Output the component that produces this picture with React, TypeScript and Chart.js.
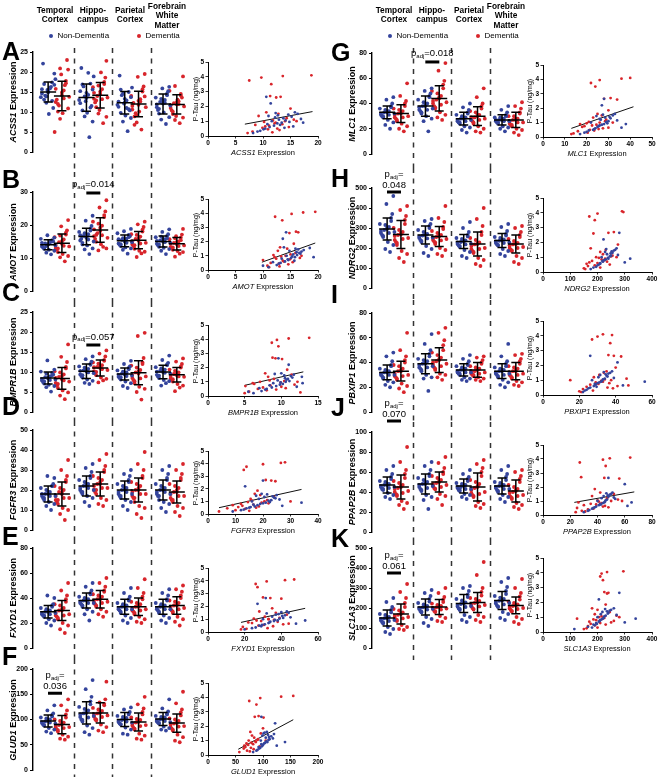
import React, { useEffect, useRef } from 'react';
import { Chart, registerables } from 'chart.js';
Chart.register(...registerables);

// ---------------- DATA ----------------
const LETTERS = ['A', 'B', 'C', 'D', 'E', 'F', 'G', 'H', 'I', 'J', 'K'];
const GENES = ['ACSS1', 'AMOT', 'BMPR1B', 'FGFR3', 'FXYD1', 'GLUD1', 'MLC1', 'NDRG2', 'PBXIP1', 'PPAP2B', 'SLC1A3'];
const REGIONS = [['Temporal', 'Cortex'], ['Hippo-', 'campus'], ['Parietal', 'Cortex'], ['Forebrain', 'White', 'Matter']];
const LEGEND = ['Non-Dementia', 'Dementia'];
const Y_MAX = [25, 30, 25, 50, 80, 200, 80, 500, 80, 100, 500];
const Y_STEP = [5, 10, 5, 10, 20, 50, 20, 100, 20, 20, 100];
const X_MAX = [20, 20, 15, 40, 60, 200, 50, 400, 60, 80, 400];
const X_STEP = [5, 5, 5, 10, 20, 50, 10, 100, 20, 20, 100];
const PTAU_TICKS_MAX = 5;

// groups order: TC ND, TC D, Hip ND, Hip D, Par ND, Par D, FWM ND, FWM D
const ACSS1_GROUPS = [
  [15.2, 13.1, 17.4, 14.6, 16.8, 12.3, 15.9, 22.1, 11.0, 14.1, 16.3, 13.7, 18.2, 15.5, 9.5, 14.9, 17.0, 12.8, 15.7, 19.6, 13.9, 16.1],
  [14.2, 10.1, 17.8, 12.5, 20.6, 8.3, 15.4, 13.1, 23.0, 11.6, 16.7, 5.0, 13.8, 19.4, 9.7, 14.9, 12.0, 17.2, 15.8, 10.9, 20.9, 13.4],
  [13.5, 10.4, 17.1, 12.2, 15.6, 8.9, 14.3, 21.0, 11.5, 16.4, 3.7, 13.0, 18.9, 12.7, 9.8, 14.8, 16.9, 11.1, 15.2, 7.6, 13.9, 19.8],
  [14.5, 11.2, 17.0, 13.3, 22.8, 9.6, 15.7, 12.4, 18.6, 14.0, 7.2, 16.2, 13.6, 10.5, 19.9, 15.1, 12.9, 17.5, 14.8, 8.8, 16.6, 13.2],
  [12.4, 9.8, 15.0, 11.3, 13.7, 7.6, 12.9, 19.1, 10.4, 14.2, 5.2, 11.8, 16.1, 12.1, 9.1, 13.3, 15.6, 10.7, 12.6, 8.5, 14.6, 11.0],
  [11.8, 8.9, 15.1, 10.6, 19.5, 7.4, 13.2, 12.3, 16.4, 9.7, 5.6, 14.0, 11.2, 18.8, 10.1, 12.8, 6.8, 15.7, 11.5, 13.9, 9.2, 12.6],
  [12.1, 9.6, 14.6, 11.2, 16.3, 8.1, 13.0, 10.5, 15.2, 12.5, 7.0, 13.6, 11.6, 15.9, 9.9, 12.8, 10.8, 14.2, 11.9, 8.7, 13.3, 12.3],
  [11.9, 9.5, 14.1, 11.0, 18.9, 8.0, 12.7, 10.4, 13.6, 12.2, 7.2, 15.3, 11.4, 9.0, 13.1, 12.5, 10.1, 14.5, 11.7, 8.6, 16.5, 12.0],
];
const AMOT_GROUPS = [
  [14.1, 12.8, 15.4, 13.5, 16.2, 11.6, 14.7, 13.2, 15.0, 14.4, 11.1, 15.8, 13.8, 16.9, 12.5, 14.2, 13.0, 15.2, 14.6, 12.2, 13.6, 14.9],
  [14.3, 11.8, 17.1, 13.0, 21.5, 10.2, 15.6, 12.6, 18.4, 14.8, 9.0, 16.3, 13.5, 19.6, 11.2, 15.1, 12.9, 17.7, 14.0, 10.6, 16.8, 13.7],
  [16.4, 14.1, 18.9, 15.3, 22.8, 12.6, 17.2, 15.8, 19.7, 16.7, 11.2, 17.9, 15.0, 21.3, 13.8, 16.1, 14.6, 18.3, 16.9, 12.9, 17.5, 15.6],
  [18.2, 14.9, 22.4, 16.6, 27.5, 12.3, 19.8, 15.8, 24.1, 17.5, 13.4, 21.0, 16.1, 25.3, 14.2, 19.2, 17.0, 23.0, 18.7, 12.9, 20.4, 16.9],
  [15.2, 13.6, 17.0, 14.4, 18.8, 12.5, 15.9, 14.0, 16.6, 15.5, 11.3, 17.5, 14.8, 18.1, 13.2, 15.0, 14.2, 16.3, 15.7, 12.9, 16.0, 14.6],
  [15.3, 12.8, 18.0, 14.1, 21.0, 10.3, 16.5, 13.6, 19.4, 15.8, 11.4, 17.2, 14.6, 20.2, 12.2, 16.0, 13.9, 18.6, 15.1, 11.9, 17.0, 14.4],
  [15.0, 13.4, 16.7, 14.3, 18.7, 12.2, 15.6, 13.9, 17.2, 15.3, 11.2, 16.3, 14.6, 17.9, 13.1, 15.8, 14.1, 16.0, 15.2, 12.7, 16.5, 14.8],
  [14.2, 12.5, 16.2, 13.4, 18.8, 10.4, 15.0, 13.0, 17.1, 14.6, 11.3, 15.7, 13.8, 16.6, 12.1, 14.9, 13.2, 15.4, 14.4, 11.8, 16.0, 13.6],
];
const BMPR1B_GROUPS = [
  [8.4, 7.1, 9.8, 7.9, 10.6, 6.2, 8.9, 7.5, 9.4, 8.7, 5.1, 10.1, 8.1, 12.9, 6.8, 8.6, 7.7, 9.2, 8.3, 6.5, 9.6, 8.0],
  [8.2, 6.0, 10.9, 7.3, 16.9, 4.1, 9.4, 6.7, 12.5, 8.8, 3.2, 10.2, 7.6, 13.8, 5.4, 9.0, 7.0, 11.3, 8.5, 4.9, 9.9, 7.9],
  [10.1, 8.6, 12.0, 9.4, 13.9, 7.3, 10.8, 9.0, 12.6, 10.4, 7.0, 11.4, 9.7, 13.2, 8.1, 10.6, 9.2, 11.8, 10.3, 7.8, 11.1, 9.9],
  [11.0, 9.2, 13.0, 10.2, 15.4, 7.4, 11.7, 9.8, 13.9, 11.3, 7.9, 12.4, 10.5, 14.6, 8.6, 11.5, 10.0, 12.8, 11.2, 8.3, 12.1, 10.7],
  [9.4, 8.1, 11.0, 8.8, 12.8, 6.5, 9.9, 8.5, 11.4, 9.6, 6.0, 10.4, 9.1, 12.0, 7.6, 9.7, 8.7, 10.7, 9.3, 7.2, 10.1, 9.0],
  [9.6, 7.2, 12.4, 8.5, 19.8, 5.0, 10.5, 8.0, 13.5, 9.9, 3.1, 11.6, 8.9, 19.0, 6.3, 10.2, 7.7, 12.0, 9.3, 5.8, 11.1, 8.4],
  [10.0, 8.5, 11.7, 9.3, 14.1, 6.6, 10.6, 8.9, 12.3, 10.3, 7.2, 11.2, 9.6, 13.0, 8.0, 10.4, 9.1, 11.9, 10.1, 7.7, 10.9, 9.8],
  [9.2, 7.6, 11.1, 8.4, 13.4, 5.2, 9.9, 8.0, 12.0, 9.5, 6.1, 10.6, 8.8, 12.6, 7.0, 9.7, 8.2, 11.4, 9.0, 6.6, 10.3, 8.9],
];
const FGFR3_GROUPS = [
  [18, 15, 22, 17, 26, 12, 19, 16, 23, 18, 10, 21, 17, 27, 14, 19, 16, 22, 18, 13, 20, 17],
  [18, 13, 24, 15, 35, 8, 20, 14, 27, 19, 5, 22, 16, 30, 11, 19, 15, 25, 17, 10, 21, 16],
  [22, 18, 27, 20, 33, 14, 23, 19, 29, 22, 12, 25, 20, 31, 17, 23, 19, 26, 21, 16, 24, 21],
  [23, 18, 29, 20, 38, 13, 25, 19, 32, 23, 12, 27, 21, 35, 16, 24, 20, 30, 22, 15, 26, 21],
  [20, 16, 25, 18, 30, 12, 21, 17, 27, 20, 10, 23, 18, 28, 15, 21, 17, 24, 19, 14, 22, 19],
  [20, 14, 26, 17, 39, 8, 22, 16, 30, 20, 6, 24, 18, 33, 12, 21, 16, 27, 19, 11, 23, 18],
  [20, 15, 25, 18, 32, 11, 21, 17, 28, 20, 9, 23, 18, 30, 14, 21, 17, 26, 19, 13, 22, 19],
  [19, 14, 25, 16, 33, 9, 21, 15, 28, 19, 7, 23, 17, 30, 12, 20, 15, 26, 18, 11, 22, 17],
];
const FXYD1_GROUPS = [
  [29, 25, 33, 27, 40, 20, 30, 26, 35, 29, 18, 32, 28, 42, 23, 30, 26, 34, 28, 22, 31, 27],
  [30, 23, 37, 26, 52, 15, 32, 25, 42, 30, 12, 35, 27, 46, 20, 31, 24, 39, 28, 18, 34, 26],
  [38, 33, 43, 36, 52, 27, 39, 35, 46, 38, 22, 41, 36, 49, 31, 39, 34, 44, 37, 29, 40, 36],
  [39, 33, 45, 36, 56, 27, 41, 35, 49, 39, 25, 43, 37, 52, 31, 40, 34, 46, 38, 29, 42, 36],
  [33, 28, 38, 31, 48, 22, 34, 30, 41, 33, 20, 36, 31, 44, 26, 34, 29, 39, 32, 24, 35, 31],
  [33, 27, 39, 30, 55, 21, 35, 29, 44, 33, 20, 37, 31, 48, 25, 34, 28, 41, 32, 23, 36, 30],
  [33, 28, 38, 31, 47, 22, 34, 30, 42, 33, 20, 36, 31, 44, 26, 34, 29, 39, 32, 24, 35, 31],
  [34, 28, 40, 31, 50, 21, 36, 30, 45, 34, 18, 38, 32, 47, 25, 35, 29, 42, 33, 23, 37, 31],
];
const GLUD1_GROUPS = [
  [97, 88, 106, 93, 128, 76, 100, 90, 112, 96, 73, 104, 92, 118, 83, 99, 89, 109, 95, 80, 102, 94],
  [90, 76, 104, 84, 140, 62, 94, 80, 118, 89, 60, 100, 85, 128, 70, 92, 79, 110, 87, 66, 97, 83],
  [113, 96, 130, 105, 178, 75, 118, 100, 145, 112, 70, 125, 107, 160, 88, 116, 99, 136, 110, 83, 121, 104],
  [113, 98, 128, 106, 175, 78, 117, 101, 140, 112, 75, 123, 108, 134, 90, 115, 100, 131, 110, 85, 120, 105],
  [100, 90, 110, 95, 124, 72, 103, 92, 115, 99, 70, 107, 94, 120, 84, 101, 91, 112, 97, 80, 105, 96],
  [95, 80, 110, 88, 145, 62, 99, 84, 122, 94, 60, 104, 89, 130, 72, 97, 82, 115, 92, 68, 101, 87],
  [101, 92, 110, 96, 140, 80, 104, 94, 116, 100, 78, 107, 95, 122, 86, 102, 93, 112, 98, 83, 105, 97],
  [93, 78, 108, 85, 155, 58, 97, 82, 120, 92, 55, 102, 87, 132, 70, 95, 80, 114, 90, 65, 100, 86],
];
const MLC1_GROUPS = [
  [33, 29, 37, 31, 45, 23, 34, 30, 40, 33, 20, 36, 32, 43, 27, 34, 30, 38, 32, 25, 35, 31],
  [32, 26, 38, 29, 56, 20, 34, 28, 42, 32, 18, 36, 30, 46, 24, 33, 27, 40, 31, 22, 35, 29],
  [38, 32, 45, 35, 52, 26, 40, 34, 48, 38, 18, 43, 36, 50, 30, 39, 33, 46, 37, 28, 41, 35],
  [44, 36, 52, 40, 72, 29, 46, 38, 58, 43, 27, 50, 41, 66, 33, 45, 37, 55, 42, 31, 48, 39],
  [28, 24, 32, 26, 40, 19, 29, 25, 35, 28, 17, 31, 27, 37, 22, 29, 25, 33, 27, 21, 30, 26],
  [30, 24, 36, 27, 52, 18, 31, 26, 40, 29, 17, 34, 28, 45, 22, 31, 25, 38, 29, 20, 33, 27],
  [27, 24, 30, 26, 38, 20, 28, 25, 33, 27, 18, 29, 26, 35, 22, 28, 25, 31, 27, 21, 29, 26],
  [27, 22, 32, 24, 41, 17, 28, 23, 36, 27, 15, 30, 25, 38, 20, 28, 23, 33, 26, 19, 30, 25],
];
const NDRG2_GROUPS = [
  [295, 255, 335, 275, 460, 195, 305, 265, 370, 290, 180, 320, 280, 420, 230, 300, 260, 350, 285, 215, 315, 275],
  [268, 215, 320, 240, 410, 150, 280, 230, 360, 265, 130, 300, 250, 390, 185, 275, 225, 340, 260, 170, 290, 245],
  [265, 230, 300, 250, 345, 175, 270, 240, 320, 262, 160, 290, 252, 335, 210, 268, 235, 310, 258, 195, 280, 248],
  [258, 220, 295, 240, 410, 170, 265, 232, 330, 255, 160, 285, 245, 350, 200, 262, 228, 305, 250, 190, 275, 238],
  [232, 205, 258, 220, 330, 160, 238, 212, 280, 230, 150, 250, 222, 300, 190, 235, 210, 265, 228, 180, 245, 218],
  [220, 175, 265, 195, 400, 120, 228, 185, 310, 218, 110, 250, 200, 345, 150, 225, 180, 280, 210, 140, 240, 195],
  [238, 212, 262, 225, 320, 170, 243, 218, 285, 236, 160, 255, 228, 305, 195, 240, 215, 270, 233, 185, 250, 225],
  [220, 185, 255, 200, 310, 130, 226, 192, 280, 218, 120, 245, 205, 300, 160, 223, 188, 265, 212, 150, 235, 200],
];
const PBXIP1_GROUPS = [
  [32, 27, 37, 30, 48, 22, 33, 29, 41, 32, 20, 35, 30, 45, 25, 33, 28, 38, 31, 24, 34, 30],
  [33, 26, 40, 29, 64, 19, 35, 28, 45, 33, 16, 38, 30, 50, 23, 34, 27, 42, 31, 21, 37, 29],
  [39, 33, 45, 36, 63, 27, 41, 35, 50, 39, 17, 43, 37, 55, 30, 40, 34, 47, 38, 28, 42, 36],
  [42, 34, 50, 38, 68, 28, 44, 36, 58, 41, 26, 48, 39, 64, 31, 43, 35, 54, 40, 30, 46, 37],
  [34, 30, 38, 32, 46, 26, 35, 31, 41, 34, 25, 37, 32, 43, 28, 35, 31, 39, 33, 27, 36, 32],
  [34, 29, 39, 31, 45, 26, 35, 30, 42, 33, 25, 37, 32, 44, 28, 35, 30, 40, 33, 27, 36, 31],
  [33, 28, 37, 31, 55, 22, 34, 30, 41, 33, 20, 36, 31, 45, 26, 34, 29, 39, 32, 24, 35, 30],
  [33, 27, 39, 30, 47, 22, 35, 29, 43, 33, 21, 37, 31, 46, 25, 34, 28, 41, 32, 24, 36, 30],
];
const PPAP2B_GROUPS = [
  [47, 42, 53, 45, 66, 35, 48, 43, 58, 47, 33, 51, 45, 62, 39, 48, 43, 55, 46, 37, 50, 44],
  [45, 36, 54, 40, 85, 27, 47, 38, 62, 44, 23, 51, 41, 70, 31, 46, 37, 58, 43, 29, 49, 39],
  [48, 41, 56, 45, 70, 32, 50, 43, 62, 48, 23, 54, 46, 66, 37, 49, 42, 58, 47, 35, 52, 44],
  [50, 43, 58, 46, 75, 33, 52, 44, 64, 49, 27, 56, 47, 69, 38, 51, 43, 60, 48, 36, 54, 45],
  [46, 41, 51, 44, 62, 35, 47, 42, 55, 45, 33, 49, 43, 58, 38, 47, 42, 53, 45, 37, 48, 43],
  [45, 35, 56, 39, 72, 26, 48, 37, 64, 44, 24, 52, 40, 68, 30, 46, 36, 60, 42, 28, 50, 38],
  [46, 40, 52, 44, 66, 33, 47, 42, 58, 46, 30, 50, 43, 62, 37, 47, 41, 55, 45, 35, 49, 43],
  [41, 33, 50, 36, 62, 25, 43, 35, 56, 40, 23, 47, 37, 60, 29, 42, 34, 53, 39, 27, 45, 36],
];
const SLC1A3_GROUPS = [
  [150, 122, 178, 138, 250, 80, 156, 130, 205, 148, 70, 170, 140, 230, 105, 152, 128, 190, 145, 95, 165, 135],
  [170, 135, 205, 150, 320, 95, 178, 142, 250, 166, 90, 195, 155, 280, 115, 172, 140, 225, 160, 105, 188, 148],
  [205, 178, 232, 195, 290, 125, 210, 185, 260, 203, 110, 225, 196, 275, 155, 208, 182, 245, 200, 145, 218, 192],
  [205, 180, 230, 195, 300, 135, 210, 186, 255, 203, 130, 222, 197, 275, 160, 208, 183, 242, 200, 150, 216, 192],
  [222, 190, 255, 208, 310, 140, 228, 198, 285, 220, 130, 245, 210, 300, 165, 225, 195, 268, 215, 155, 238, 205],
  [228, 192, 262, 210, 430, 140, 235, 200, 300, 225, 130, 250, 215, 365, 165, 232, 196, 280, 220, 155, 245, 208],
  [238, 205, 270, 222, 350, 150, 245, 212, 305, 236, 140, 260, 225, 330, 180, 240, 208, 285, 230, 170, 252, 218],
  [213, 182, 242, 198, 345, 130, 218, 190, 275, 210, 120, 232, 200, 300, 155, 215, 186, 258, 205, 145, 225, 195],
];

const ACSS1_MEAN = [15, 14, 13.6, 14.2, 12.3, 12, 12, 11.9];
const ACSS1_SD = [2.5, 3.7, 3.4, 3.2, 2.8, 3.2, 2.5, 2.4];
const AMOT_MEAN = [14, 14.5, 16.5, 18.5, 15.2, 15.4, 15, 14.3];
const AMOT_SD = [1.5, 2.8, 2.5, 3.7, 1.8, 2.6, 1.7, 1.9];
const BMPR1B_MEAN = [8.5, 8.4, 10.2, 11, 9.5, 9.8, 10, 9.3];
const BMPR1B_SD = [1.5, 2.7, 1.8, 2, 1.5, 3, 1.7, 1.8];
const FGFR3_MEAN = [18, 18, 22, 23, 20, 20, 20, 19];
const FGFR3_SD = [4, 6, 5, 6, 4.5, 6, 5, 5.5];
const FXYD1_MEAN = [29, 30, 38, 39, 33, 33, 33, 34];
const FXYD1_SD = [5, 8, 6, 7, 6, 7, 6, 7];
const GLUD1_MEAN = [97, 90, 113, 113, 100, 95, 101, 93];
const GLUD1_SD = [12, 18, 22, 20, 14, 18, 13, 18];
const MLC1_MEAN = [33, 32, 38, 44, 28, 30, 27, 27];
const MLC1_SD = [5, 7, 8, 10, 5, 7.5, 4, 6];
const NDRG2_MEAN = [295, 268, 265, 258, 232, 220, 238, 220];
const NDRG2_SD = [55, 70, 45, 50, 35, 60, 35, 45];
const PBXIP1_MEAN = [32, 33, 39, 42, 34, 34, 33, 33];
const PBXIP1_SD = [6, 8, 8, 10, 5, 6, 6, 7];
const PPAP2B_MEAN = [47, 45, 48, 50, 46, 45, 46, 41];
const PPAP2B_SD = [8, 12, 10, 10, 7, 14, 8, 11];
const SLC1A3_MEAN = [150, 170, 205, 205, 222, 228, 238, 213];
const SLC1A3_SD = [40, 50, 40, 38, 45, 50, 45, 42];

// significance: [region index, value of bar, p text, split into two lines]
const SIGS: any[] = [
  null,
  [1, 29.7, '0.014', false],
  [1, 16.75, '0.057', false],
  null,
  null,
  [0, 152, '0.036', true],
  [1, 72.9, '0.018', false],
  [0, 480, '0.048', true],
  null,
  [0, 111, '0.070', true],
  [0, 375, '0.061', true],
];

// P-Tau (shared subjects)
const PTAU_ND = [0.2, 0.35, 0.5, 0.6, 0.7, 0.8, 0.85, 0.9, 1.0, 1.05, 1.1, 1.2, 1.3, 1.35, 1.45, 1.5, 1.55, 1.6, 0.3, 0.45, 0.75, 0.95, 1.15, 1.4, 2.2, 2.65, 0.55, 0.65, 1.25, 0.9];
const PTAU_D = [4.1, 4.05, 3.95, 3.75, 3.5, 2.7, 2.65, 2.6, 1.85, 1.6, 1.5, 1.35, 1.2, 1.05, 1.0, 0.95, 0.85, 0.8, 0.75, 0.7, 0.6, 0.55, 0.5, 0.45, 0.4, 0.3, 0.25, 0.2, 1.1, 0.9, 0.65, 1.0];

const ACSS1_X_ND = [8.2, 9.5, 10.4, 11.2, 12.0, 10.8, 12.6, 13.4, 11.6, 14.1, 12.9, 13.7, 15.2, 11.0, 14.6, 16.3, 12.3, 15.8, 9.0, 10.1, 13.1, 14.8, 16.9, 12.7, 11.4, 10.6, 13.9, 15.5, 12.2, 17.3];
const ACSS1_X_D = [18.8, 13.6, 9.7, 7.5, 11.5, 11.3, 13.2, 12.4, 15.0, 10.6, 12.8, 9.2, 14.3, 11.8, 16.1, 10.2, 12.1, 13.5, 8.6, 11.1, 14.7, 9.9, 12.6, 10.9, 13.0, 8.1, 11.7, 7.2, 15.6, 12.3, 10.4, 14.0];
const AMOT_X_ND = [11.0, 12.5, 13.2, 14.0, 14.6, 13.4, 15.1, 15.8, 14.3, 16.2, 15.5, 16.6, 17.0, 14.8, 16.4, 15.9, 18.5, 13.8, 10.0, 12.9, 14.5, 15.3, 16.8, 17.4, 13.6, 14.2, 11.8, 15.7, 16.1, 19.2];
const AMOT_X_D = [19.5, 17.3, 15.2, 12.2, 13.5, 16.0, 16.4, 14.8, 15.6, 13.1, 14.4, 12.7, 15.9, 11.9, 14.1, 13.3, 16.7, 12.4, 14.9, 10.0, 13.8, 15.4, 11.4, 12.9, 14.6, 10.8, 13.0, 11.1, 15.0, 12.1, 13.6, 17.0];
const BMPR1B_X_ND = [6.2, 7.3, 8.0, 8.7, 9.3, 9.8, 10.2, 8.9, 10.6, 11.1, 9.5, 10.9, 11.5, 12.8, 10.4, 11.7, 9.1, 10.0, 5.5, 7.8, 8.4, 9.9, 10.7, 11.3, 11.0, 9.6, 7.0, 12.1, 10.5, 12.9];
const BMPR1B_X_D = [13.8, 11.0, 9.4, 8.7, 9.6, 8.8, 9.2, 10.1, 10.8, 7.8, 11.4, 8.2, 9.0, 10.4, 7.1, 9.9, 6.3, 11.8, 8.5, 5.1, 7.5, 10.6, 6.8, 9.3, 8.0, 5.6, 12.6, 5.0, 8.4, 6.1, 10.0, 12.2];
const FGFR3_X_ND = [9, 13, 15, 17, 18, 19, 20, 21, 16, 22, 23, 18.5, 24, 20.5, 17.5, 25, 21.5, 19.5, 12, 14, 16.5, 22.5, 26, 23.5, 13.5, 20, 15.5, 27, 24.5, 34];
const FGFR3_X_D = [28, 26.5, 20, 14, 13, 21, 23, 24.5, 18, 17, 19, 24, 15.5, 16, 20.5, 14.5, 22, 12, 16.5, 9, 18.5, 11, 17.5, 7, 13.5, 10, 15, 4, 21.5, 19.5, 12.5, 30];
const FXYD1_X_ND = [20, 26, 28, 31, 33, 34, 36, 38, 30, 39, 41, 35, 42, 37, 32, 44, 40, 43, 24, 29, 33.5, 36.5, 45, 38.5, 27, 31.5, 29.5, 48, 40.5, 53];
const FXYD1_X_D = [47, 42, 32, 26, 27, 30, 34, 40, 35, 28, 37, 43, 31, 25, 33, 36, 29, 38, 22, 24, 41, 30.5, 27.5, 35.5, 19, 32.5, 21, 18, 39, 26.5, 44, 33];
const GLUD1_X_ND = [82, 90, 95, 98, 100, 102, 104, 108, 96, 110, 112, 105, 115, 99, 120, 101, 103, 107, 88, 93, 97, 106, 118, 109, 122, 97, 92, 125, 111, 140];
const GLUD1_X_D = [155, 133, 95, 75, 88, 92, 85, 101, 100, 77, 96, 80, 84, 90, 74, 86, 79, 70, 82, 73, 94, 68, 78, 65, 83, 71, 76, 57, 91, 87, 66, 105];
const MLC1_X_ND = [17, 20, 23, 24, 25, 26, 27, 28, 22, 29, 30, 26.5, 31, 28.5, 24.5, 32, 27.5, 33, 19, 21, 25.5, 29.5, 34, 30.5, 27, 28, 23.5, 36, 26, 38];
const MLC1_X_D = [40, 36, 26, 22, 24, 31, 28, 34, 30, 25, 27, 23, 29, 21, 26, 20, 24.5, 22.5, 19, 18, 27.5, 25.5, 21.5, 23.5, 16, 20.5, 14, 13, 28.5, 17, 30, 32];
const NDRG2_X_ND = [175, 195, 205, 210, 220, 225, 230, 240, 215, 245, 250, 235, 255, 228, 260, 265, 232, 270, 185, 200, 218, 238, 275, 252, 222, 280, 210, 300, 248, 320];
const NDRG2_X_D = [290, 295, 200, 170, 190, 260, 240, 185, 275, 175, 230, 210, 220, 250, 195, 205, 215, 225, 180, 235, 200, 160, 245, 190, 165, 210, 150, 155, 255, 228, 170, 270];
const PBXIP1_X_ND = [22, 24, 26, 28, 29, 30, 31, 32, 27, 33, 34, 30.5, 35, 31.5, 36, 37, 33.5, 38, 23, 25, 28.5, 32.5, 39, 34.5, 41, 26, 29.5, 44, 35.5, 56];
const PBXIP1_X_D = [33, 38, 30, 27, 37, 36, 39, 43, 40, 35, 33.5, 31, 28, 34, 37.5, 32, 29, 36.5, 30.5, 26, 41, 24, 35.5, 38.5, 22, 27.5, 20, 21, 46, 33, 47, 15];
const PPAP2B_X_ND = [30, 34, 37, 39, 41, 42, 44, 45, 40, 46, 47, 43, 48, 44.5, 49, 50, 46.5, 51, 33, 36, 42.5, 45.5, 53, 47.5, 60, 48, 38, 62, 52, 65];
const PPAP2B_X_D = [64, 49, 44, 27, 46, 28, 45, 56, 38, 42, 52, 36, 47, 40, 50, 41, 43, 35, 39, 30, 44, 48, 25, 37, 33, 28.5, 31, 24, 55, 26, 45.5, 58];
const SLC1A3_X_ND = [115, 165, 185, 195, 205, 210, 215, 220, 200, 225, 230, 212, 240, 218, 245, 250, 228, 260, 180, 190, 208, 222, 270, 235, 205, 280, 198, 300, 238, 340];
const SLC1A3_X_D = [295, 235, 215, 210, 220, 225, 240, 235, 230, 180, 200, 245, 190, 215, 205, 225, 185, 195, 260, 170, 210, 175, 230, 190, 165, 200, 160, 150, 270, 125, 250, 280];

// regression line end points [x1, y1, x2, y2]
const REGS: any[] = [
  [6.7, 0.8, 19, 1.65],
  [9.8, 0.55, 19.5, 1.9],
  [5, 0.75, 13, 1.7],
  [4, 0.5, 34, 1.95],
  [18, 0.75, 53, 1.85],
  [55, 0.4, 155, 2.45],
  [13, 0.6, 41.5, 2.1],
  null,
  null,
  [23, 0.9, 67, 1.65],
  null,
];

const ALL_GROUPS = [ACSS1_GROUPS, AMOT_GROUPS, BMPR1B_GROUPS, FGFR3_GROUPS, FXYD1_GROUPS, GLUD1_GROUPS, MLC1_GROUPS, NDRG2_GROUPS, PBXIP1_GROUPS, PPAP2B_GROUPS, SLC1A3_GROUPS];
const ALL_MEAN = [ACSS1_MEAN, AMOT_MEAN, BMPR1B_MEAN, FGFR3_MEAN, FXYD1_MEAN, GLUD1_MEAN, MLC1_MEAN, NDRG2_MEAN, PBXIP1_MEAN, PPAP2B_MEAN, SLC1A3_MEAN];
const ALL_SD = [ACSS1_SD, AMOT_SD, BMPR1B_SD, FGFR3_SD, FXYD1_SD, GLUD1_SD, MLC1_SD, NDRG2_SD, PBXIP1_SD, PPAP2B_SD, SLC1A3_SD];
const ALL_X_ND = [ACSS1_X_ND, AMOT_X_ND, BMPR1B_X_ND, FGFR3_X_ND, FXYD1_X_ND, GLUD1_X_ND, MLC1_X_ND, NDRG2_X_ND, PBXIP1_X_ND, PPAP2B_X_ND, SLC1A3_X_ND];
const ALL_X_D = [ACSS1_X_D, AMOT_X_D, BMPR1B_X_D, FGFR3_X_D, FXYD1_X_D, GLUD1_X_D, MLC1_X_D, NDRG2_X_D, PBXIP1_X_D, PPAP2B_X_D, SLC1A3_X_D];

// ---------------- LAYOUT ----------------
// col, tileTop, tileBottom, axisTop, axisBottom, scatterTop, scatterBottom, letterTop
const LAYOUT = [
  [0, 48, 172, 52, 152, 62, 136, 42],
  [0, 172, 302, 192, 291, 199, 270, 170],
  [0, 302, 421, 312, 412, 325, 396, 283],
  [0, 421, 539, 430, 530, 451, 514, 397],
  [0, 539, 659, 548, 648, 568, 632, 527],
  [0, 659, 777, 669, 770, 683, 755, 647],
  [1, 48, 168, 53, 154, 65, 137, 43],
  [1, 168, 300, 188, 288, 198, 272, 169],
  [1, 300, 422, 313, 412, 321, 395, 285],
  [1, 422, 540, 432, 532, 445, 515, 398],
  [1, 540, 660, 548, 648, 558, 632, 529],
];

const BLUE = '#34449c';
const RED = '#d8252b';
const FONT = "'Liberation Sans', Arial, Helvetica, sans-serif";
Chart.defaults.font.family = FONT;
const COL_SHIFT = 339;
const DOT_W = 200;
const AXIS_X = 33;
const PPU = 19.15;
const JIT = [0, -0.55, 0.55, -0.85, 0.85, -0.25, 0.25, -0.7, 0.7, -0.4, 0.4, -1, 1, -0.1, 0.1];
const HEADER_X = [55, 93, 130, 167];

const groupX = (gi: number) => 1 + 2 * Math.floor(gi / 2) + (gi % 2 ? 0.36 : -0.36);

function drawP(ctx: CanvasRenderingContext2D, cx: number, base: number, parts: any[]) {
  let total = 0;
  parts.forEach((p) => {
    ctx.font = `${p[1]}px ${FONT}`;
    total += ctx.measureText(p[0]).width;
  });
  let x = cx - total / 2;
  ctx.fillStyle = '#000';
  ctx.textBaseline = 'alphabetic';
  ctx.textAlign = 'left';
  parts.forEach((p) => {
    ctx.font = `${p[1]}px ${FONT}`;
    ctx.fillText(p[0], x, base + p[2]);
    x += ctx.measureText(p[0]).width;
  });
}

function DotPlot({ idx }: { idx: number }) {
  const ref = useRef<HTMLCanvasElement>(null);
  const L = LAYOUT[idx];
  const left = L[0] ? COL_SHIFT : 0;
  const cTop = Math.max(0, L[1] - 32);
  const cH = L[2] - cTop;
  useEffect(() => {
    const groups = ALL_GROUPS[idx];
    const means = ALL_MEAN[idx];
    const sds = ALL_SD[idx];
    const sig = SIGS[idx];
    const xMin = -0.15;
    const xMax = xMin + (DOT_W - 10 - AXIS_X) / PPU;
    const datasets = groups.map((vals: number[], gi: number) => ({
      data: vals.map((v, i) => ({ x: groupX(gi) + JIT[i % JIT.length] * 0.38, y: v })),
      pointRadius: 1.9,
      pointBackgroundColor: gi % 2 ? RED : BLUE,
      pointBorderWidth: 0,
      pointHoverRadius: 1.9,
    }));
    const decor = {
      id: 'decor' + idx,
      beforeDatasetsDraw(chart: any) {
        const { ctx, scales } = chart;
        ctx.save();
        ctx.strokeStyle = '#333';
        ctx.lineWidth = 1.5;
        ctx.setLineDash([5, 5.5]);
        [2, 4, 6].forEach((v) => {
          const px = Math.round(scales.x.getPixelForValue(v)) + 0.5;
          ctx.beginPath();
          ctx.moveTo(px, L[1] - cTop);
          ctx.lineTo(px, cH);
          ctx.stroke();
        });
        ctx.restore();
      },
      afterDatasetsDraw(chart: any) {
        const { ctx, scales } = chart;
        ctx.save();
        ctx.strokeStyle = '#000';
        ctx.lineWidth = 1.5;
        means.forEach((m: number, gi: number) => {
          const cx = scales.x.getPixelForValue(groupX(gi));
          const ym = scales.y.getPixelForValue(m);
          const yt = scales.y.getPixelForValue(m + sds[gi]);
          const yb = scales.y.getPixelForValue(m - sds[gi]);
          ctx.beginPath();
          ctx.moveTo(cx - 8, ym); ctx.lineTo(cx + 8, ym);
          ctx.moveTo(cx - 4.5, yt); ctx.lineTo(cx + 4.5, yt);
          ctx.moveTo(cx - 4.5, yb); ctx.lineTo(cx + 4.5, yb);
          ctx.moveTo(cx, yt); ctx.lineTo(cx, yb);
          ctx.stroke();
        });
        if (sig) {
          const pc = scales.x.getPixelForValue(1 + 2 * sig[0]);
          const by = scales.y.getPixelForValue(sig[1]);
          ctx.lineWidth = 3;
          ctx.beginPath();
          ctx.moveTo(pc - 7, by); ctx.lineTo(pc + 7, by);
          ctx.stroke();
          if (sig[3]) {
            drawP(ctx, pc, by - 15, [['p', 9.5, 0], ['adj', 6, 1.5], ['=', 9.5, 0]]);
            drawP(ctx, pc, by - 4, [[sig[2], 9.5, 0]]);
          } else {
            drawP(ctx, pc, by - 5.5, [['p', 9.5, 0], ['adj', 6, 1.5], ['=' + sig[2], 9.5, 0]]);
          }
        }
        ctx.restore();
      },
    };
    const chart = new Chart(ref.current as HTMLCanvasElement, {
      type: 'scatter',
      data: { datasets } as any,
      plugins: [decor],
      options: {
        animation: false,
        responsive: false,
        events: [],
        layout: { padding: { top: L[3] - cTop, bottom: L[2] - L[4], left: 0, right: 10 } },
        plugins: { legend: { display: false }, tooltip: { enabled: false } },
        scales: {
          x: { type: 'linear', display: false, min: xMin, max: xMax },
          y: {
            type: 'linear',
            min: 0,
            max: Y_MAX[idx],
            ticks: { stepSize: Y_STEP[idx], autoSkip: false, color: '#000', padding: 2, font: { size: 7, weight: 'bold', family: FONT } },
            grid: { display: true, drawOnChartArea: false, drawTicks: true, tickLength: 3, color: '#000', lineWidth: 1 },
            border: { display: true, color: '#000', width: 1.4 },
            afterFit: (s: any) => { s.width = AXIS_X; },
          },
        },
      } as any,
    });
    return () => chart.destroy();
  }, []);
  return <canvas ref={ref} width={DOT_W} height={cH} style={{ position: 'absolute', left, top: cTop, width: DOT_W, height: cH }} />;
}

function ScatterPlot({ idx }: { idx: number }) {
  const ref = useRef<HTMLCanvasElement>(null);
  const L = LAYOUT[idx];
  const left = L[0] ? 509 : 174;
  const areaL = L[0] ? 543 : 208;
  const areaR = L[0] ? 652 : 318;
  const cTop = L[5] - 8;
  const xH = 13;
  const cH = L[6] - cTop + xH;
  const W = areaR - left + 8;
  useEffect(() => {
    const reg = REGS[idx];
    const datasets: any[] = [
      { data: ALL_X_ND[idx].map((x: number, i: number) => ({ x, y: PTAU_ND[i] })), pointRadius: 1.4, pointBackgroundColor: BLUE, pointBorderWidth: 0 },
      { data: ALL_X_D[idx].map((x: number, i: number) => ({ x, y: PTAU_D[i] })), pointRadius: 1.4, pointBackgroundColor: RED, pointBorderWidth: 0 },
    ];
    if (reg) {
      datasets.push({ data: [{ x: reg[0], y: reg[1] }, { x: reg[2], y: reg[3] }], showLine: true, pointRadius: 0, borderColor: '#111', borderWidth: 1 });
    }
    const tickFont = { size: 6.5, weight: 'bold', family: FONT };
    const chart = new Chart(ref.current as HTMLCanvasElement, {
      type: 'scatter',
      data: { datasets },
      options: {
        animation: false,
        responsive: false,
        events: [],
        layout: { padding: { top: 8, right: 8, left: 0, bottom: 0 } },
        plugins: { legend: { display: false }, tooltip: { enabled: false } },
        scales: {
          x: {
            type: 'linear', min: 0, max: X_MAX[idx],
            ticks: { stepSize: X_STEP[idx], autoSkip: false, maxRotation: 0, color: '#000', padding: 1, font: tickFont },
            grid: { display: true, drawOnChartArea: false, drawTicks: true, tickLength: 2.5, color: '#000', lineWidth: 0.8 },
            border: { display: true, color: '#000', width: 1 },
            afterFit: (s: any) => { s.height = xH; },
          },
          y: {
            type: 'linear', min: 0, max: PTAU_TICKS_MAX,
            ticks: { stepSize: 1, autoSkip: false, color: '#000', padding: 1.5, font: tickFont },
            grid: { display: true, drawOnChartArea: false, drawTicks: true, tickLength: 2.5, color: '#000', lineWidth: 0.8 },
            border: { display: true, color: '#000', width: 1 },
            afterFit: (s: any) => { s.width = areaL - left; },
          },
        },
      } as any,
    });
    return () => chart.destroy();
  }, []);
  return <canvas ref={ref} width={W} height={cH} style={{ position: 'absolute', left, top: cTop, width: W, height: cH }} />;
}

function Rot({ cx, cy, children, style }: any) {
  return (
    <div style={{ position: 'absolute', left: cx, top: cy, transform: 'translate(-50%, -50%) rotate(-90deg)', whiteSpace: 'nowrap', lineHeight: '10px', ...style }}>
      {children}
    </div>
  );
}

function Header({ shift }: { shift: number }) {
  return (
    <>
      {REGIONS.map((lines, i) => (
        <div key={i} style={{ position: 'absolute', left: HEADER_X[i] + shift, top: 15.5, transform: 'translate(-50%, -50%)', textAlign: 'center', fontWeight: 'bold', fontSize: 8.3, lineHeight: '9.6px', whiteSpace: 'nowrap', fontFamily: FONT }}>
          {lines.map((l, j) => <div key={j}>{l}</div>)}
        </div>
      ))}
      {LEGEND.map((t, i) => (
        <div key={'l' + i} style={{ position: 'absolute', left: (i ? 137 : 49) + shift, top: 31, fontSize: 8, lineHeight: '10px', whiteSpace: 'nowrap', fontFamily: FONT, display: 'flex', alignItems: 'center' }}>
          <span style={{ display: 'inline-block', width: 3.5, height: 3.5, borderRadius: 2, background: i ? RED : BLUE, marginRight: 5 }} />
          {t}
        </div>
      ))}
    </>
  );
}

function Labels({ idx }: { idx: number }) {
  const L = LAYOUT[idx];
  const sh = L[0] ? COL_SHIFT : 0;
  const gene = GENES[idx];
  return (
    <>
      <div style={{ position: 'absolute', left: L[0] ? 331 : 2, top: L[7] - 3, fontSize: 25, fontWeight: 'bold', lineHeight: '25px', fontFamily: FONT }}>{LETTERS[idx]}</div>
      <Rot cx={13 + sh} cy={(L[3] + L[4]) / 2} style={{ fontSize: 9, fontWeight: 'bold', fontFamily: FONT }}>
        <i>{gene}</i> Expression
      </Rot>
      <Rot cx={L[0] ? 530 : 196} cy={(L[5] + L[6]) / 2} style={{ fontSize: 7, fontFamily: FONT }}>
        P-Tau (ng/mg)
      </Rot>
      <div style={{ position: 'absolute', left: L[0] ? 597 : 263, top: L[6] + 16, transform: 'translate(-50%, -50%)', fontSize: 7.5, lineHeight: '9px', whiteSpace: 'nowrap', fontFamily: FONT }}>
        <i>{gene}</i> Expression
      </div>
    </>
  );
}

export default function App() {
  const idxs = LETTERS.map((_, i) => i);
  return (
    <div style={{ position: 'absolute', left: 0, top: 0, width: 660, height: 777, overflow: 'hidden', background: '#fff', fontFamily: FONT, color: '#000' }}>
      {idxs.map((i) => <DotPlot key={'d' + i} idx={i} />)}
      {idxs.map((i) => <ScatterPlot key={'s' + i} idx={i} />)}
      <Header shift={0} />
      <Header shift={COL_SHIFT} />
      {idxs.map((i) => <Labels key={'t' + i} idx={i} />)}
    </div>
  );
}
